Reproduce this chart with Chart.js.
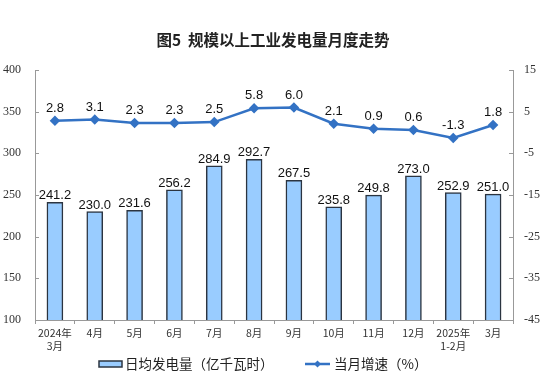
<!DOCTYPE html>
<html>
<head>
<meta charset="utf-8">
<script src="https://cdn.jsdelivr.net/npm/chart.js@4/dist/chart.umd.min.js"></script>
<style>
html,body{margin:0;padding:0;background:#fff;}
#wrap{width:554px;height:372px;position:relative;}
</style>
</head>
<body>
<div id="wrap"><canvas id="c" width="554" height="372"></canvas></div>
<script>
const categories = [['2024年','3月'],'4月','5月','6月','7月','8月','9月','10月','11月','12月',['2025年','1-2月'],'3月'];
const dailyOutput = [241.2,230.0,231.6,256.2,284.9,292.7,267.5,235.8,249.8,273.0,252.9,251.0];
const monthlyGrowth = [2.8,3.1,2.3,2.3,2.5,5.8,6.0,2.1,0.9,0.6,-1.3,1.8];
const leftTicks = [100,150,200,250,300,350,400];
const rightTicks = [-45,-35,-25,-15,-5,5,15];
const titleText = '图5  规模以上工业发电量月度走势';
const barLabel = '日均发电量（亿千瓦时）';
const lineLabel = '当月增速（%）';

const BAR_FILL = '#99CCFF', BAR_BORDER = '#2b3440', LINE = '#3372C4';

const labelPlugin = {
  id: 'labels',
  beforeDatasetsDraw(chart) {
    const ctx = chart.ctx;
    ctx.save();
    ctx.strokeStyle = '#999';
    ctx.lineWidth = 1;
    const y = chart.scales.y, y2 = chart.scales.y2;
    ctx.beginPath();
    leftTicks.forEach(v => { const p = Math.round(y.getPixelForValue(v)) + 0.5; ctx.moveTo(y.right, p); ctx.lineTo(y.right + 4, p); });
    rightTicks.forEach(v => { const p = Math.round(y2.getPixelForValue(v)) + 0.5; ctx.moveTo(y2.left, p); ctx.lineTo(y2.left - 4, p); });
    ctx.stroke();
    ctx.restore();
  },
  afterDatasetsDraw(chart) {
    const ctx = chart.ctx;
    ctx.save();
    ctx.font = '13px "Liberation Sans", Arial, sans-serif';
    ctx.fillStyle = '#111';
    ctx.textAlign = 'center';
    ctx.textBaseline = 'alphabetic';
    chart.getDatasetMeta(1).data.forEach((el, i) => {
      ctx.fillText(dailyOutput[i].toFixed(1), el.x, el.y - 3);
    });
    chart.getDatasetMeta(0).data.forEach((el, i) => {
      ctx.fillText(monthlyGrowth[i].toFixed(1), el.x, el.y - 9);
    });
    ctx.restore();
  },
  afterDraw(chart) {
    const ctx = chart.ctx;
    ctx.save();
    ctx.font = 'bold 15.5px "Noto Sans CJK SC", sans-serif';
    ctx.fillStyle = '#222';
    ctx.textAlign = 'center';
    ctx.textBaseline = 'middle';
    ctx.fillText(titleText, 273, 40);
    const ly = 364;
    ctx.fillStyle = BAR_FILL;
    ctx.strokeStyle = BAR_BORDER;
    ctx.lineWidth = 1.5;
    ctx.fillRect(99, ly - 3, 23, 6);
    ctx.strokeRect(99, ly - 3, 23, 6);
    ctx.font = '13.5px "Noto Sans CJK SC", sans-serif';
    ctx.fillStyle = '#222';
    ctx.textAlign = 'left';
    ctx.fillText(barLabel, 125, ly);
    ctx.strokeStyle = LINE;
    ctx.lineWidth = 2.5;
    ctx.beginPath(); ctx.moveTo(305, ly); ctx.lineTo(330, ly); ctx.stroke();
    ctx.fillStyle = LINE;
    ctx.beginPath(); ctx.moveTo(317.5, ly - 3.5); ctx.lineTo(321, ly); ctx.lineTo(317.5, ly + 3.5); ctx.lineTo(314, ly); ctx.closePath(); ctx.fill();
    ctx.fillStyle = '#222';
    ctx.fillText(lineLabel, 334, ly);
    ctx.restore();
  }
};

new Chart(document.getElementById('c'), {
  data: {
    labels: categories,
    datasets: [
      {
        type: 'line', label: lineLabel, data: monthlyGrowth, yAxisID: 'y2',
        borderColor: LINE, backgroundColor: LINE, borderWidth: 2.5,
        pointStyle: 'rectRot', pointRadius: 3.5, pointHoverRadius: 3.5,
        tension: 0, order: 0
      },
      {
        type: 'bar', label: barLabel, data: dailyOutput, yAxisID: 'y',
        backgroundColor: BAR_FILL, borderColor: BAR_BORDER, borderWidth: 1.5,
        barThickness: 16, order: 1
      }
    ]
  },
  options: {
    responsive: false, animation: false,
    devicePixelRatio: 1,
    layout: { padding: { top: 70, left: 0, right: 0, bottom: 0 } },
    plugins: { legend: { display: false }, title: { display: false }, tooltip: { enabled: false } },
    scales: {
      x: {
        offset: true,
        grid: { display: true, drawOnChartArea: false, offset: true, color: '#999', tickLength: 4 },
        border: { color: '#999', width: 1 },
        ticks: { color: '#333', font: { family: '"Noto Sans CJK SC", sans-serif', size: 10.5, lineHeight: 1.3 }, padding: 2, maxRotation: 0, autoSkip: false },
        afterFit(s) { s.height = 52; }
      },
      y: {
        position: 'left', min: 100, max: 400,
        afterBuildTicks(s) { s.ticks = leftTicks.map(v => ({ value: v })); },
        grid: { display: false, drawTicks: false },
        border: { color: '#999', width: 1 },
        ticks: { color: '#333', font: { family: '"Liberation Serif", serif', size: 12 }, padding: 14 },
        afterFit(s) { s.width = 35; }
      },
      y2: {
        position: 'right', min: -45, max: 15,
        afterBuildTicks(s) { s.ticks = rightTicks.map(v => ({ value: v })); },
        grid: { display: false, drawTicks: false },
        border: { color: '#999', width: 1 },
        ticks: { color: '#333', font: { family: '"Liberation Serif", serif', size: 12 }, padding: 11 },
        afterFit(s) { s.width = 41; }
      }
    }
  },
  plugins: [labelPlugin]
});
</script>
</body>
</html>
